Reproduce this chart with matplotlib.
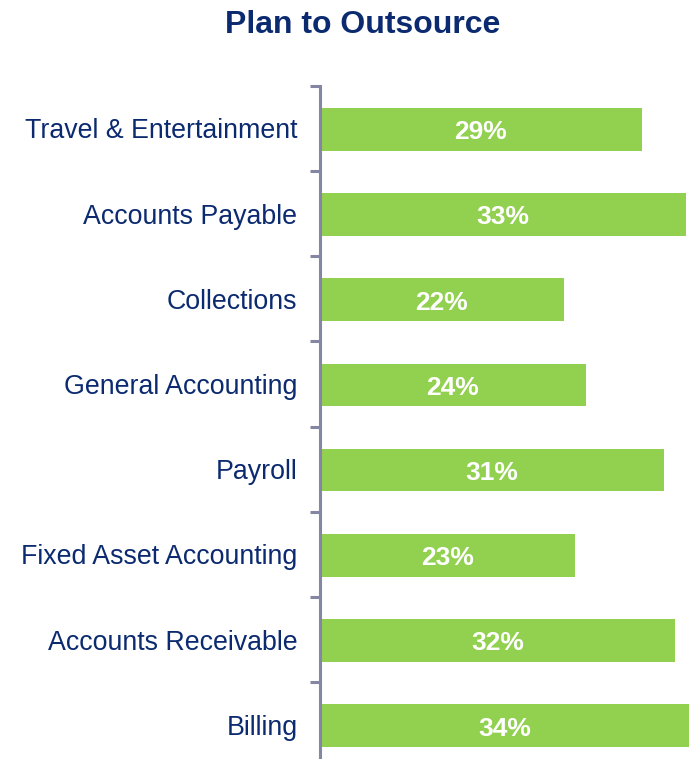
import matplotlib
matplotlib.use("Agg")
import matplotlib.pyplot as plt
import numpy as np

categories = ["Travel & Entertainment", "Accounts Payable", "Collections",
              "General Accounting", "Payroll", "Fixed Asset Accounting",
              "Accounts Receivable", "Billing"]
values = [29, 33, 22, 24, 31, 23, 32, 34]

navy = "#0B2A6F"
green = "#92D050"
axis_gray = "#8586A3"

plt.rcParams["font.family"] = ["Liberation Sans", "DejaVu Sans"]

fig = plt.figure(figsize=(6.89, 7.59), dpi=100)
ax = fig.add_axes([0.464, 0.0, 0.536, 0.887])

y = np.arange(len(categories))
ax.barh(y + 0.01, values, height=0.5, color=green, edgecolor="none")

xmax = 33.25
ax.set_xlim(0, xmax)
ax.set_ylim(7.40, -0.5)

for yi, v in zip(y, values):
    ax.text(min(v, xmax) / 2, yi + 0.015, f"{v}%", color="white", fontsize=19,
            fontweight="bold", ha="center", va="center_baseline")

for s in ["top", "right", "bottom"]:
    ax.spines[s].set_visible(False)
ax.spines["left"].set_color(axis_gray)
ax.spines["left"].set_linewidth(2.2)

ax.set_xticks([])
ax.set_yticks(y)
ax.set_yticklabels(categories, fontsize=19.3, color=navy)
ax.tick_params(axis="y", which="major", length=0, pad=16)
ax.set_yticks(np.arange(-0.5, len(categories) - 1, 1), minor=True)
ax.tick_params(axis="y", which="minor", length=7, width=2.2, color=axis_gray)

fig.text(0.526, 0.967, "Plan to Outsource", fontsize=23, fontweight="bold",
         color=navy, ha="center", va="center")

fig.savefig("out.png", dpi=100)
